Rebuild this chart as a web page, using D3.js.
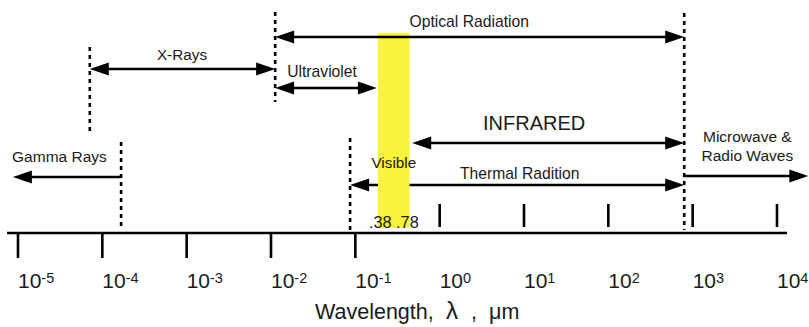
<!DOCTYPE html>
<html>
<head>
<meta charset="utf-8">
<script src="https://cdn.jsdelivr.net/npm/d3@7"></script>
<style>
    body { margin: 0; background: #fff; }
    svg { display: block; font-family: "Liberation Sans", Arial, Helvetica, sans-serif; }
</style>
</head>
<body>
<script>
//electromagnetic spectrum diagram, wavelengths in micrometres

//axis ticks, 10^n
var tickExponents = [-5, -4, -3, -2, -1, 0, 1, 2, 3, 4];

//dashed region boundaries (um)
var boundaryValues = [7.1e-5, 1.67e-4, 0.0112, 0.0867, 794];

//region arrows
var regionNames = ["Optical Radiation", "X-Rays", "Ultraviolet", "INFRARED", "Gamma Rays", "Microwave &\nRadio Waves", "Thermal Radition"];
var regionFrom = [0.0112, 7.1e-5, 0.0112, 0.472, 1.67e-4, 794, 0.0867];
var regionTo = [794, 0.0112, 0.18, 794, 8.7e-6, 23500, 794];
var regionHeads = ["both", "both", "both", "both", "end", "end", "both"];
var regionLabelAt = [2.24, 8.8e-4, 0.0403, 13.2, 3.1e-5, 4450, 8.9];

//visible band
var visibleRange = [0.186, 0.44];
var visibleLabels = ["Visible", ".38 .78"];

var axisTitle = ["Wavelength,", "\u03BB", ",", "\u03BCm"];

window.onload = drawChart();

function drawChart(){
    var width = 809,
        height = 327,
        axisY = 233;

    //layout of the rows (not data)
    var arrowY = [37, 69, 88, 143, 177, 176, 185];
    var labelY = [27, 60, 77, 130, 162, 142, 179];
    var labelSize = [15.7, 15.3, 15.7, 20, 15.5, 15.5, 15.7];
    var underBand = [false, false, false, false, false, false, true];
    var boundaryTop = [47, 142, 12, 138, 13];
    var boundaryBottom = [133, 230, 102, 230, 230];

    var svg = d3.select("body")
        .append("svg")
        .attr("width", width)
        .attr("height", height);

    var x = d3.scaleLog()
        .domain([1e-5, 1e4])
        .range([18, 777]);

    var lower = svg.append("g"),
        band = svg.append("g"),
        upper = svg.append("g");

    //dashed boundaries
    lower.selectAll(".boundary")
        .data(boundaryValues)
        .enter()
        .append("line")
        .attr("class", "boundary")
        .attr("x1", function(d){ return x(d); })
        .attr("x2", function(d){ return x(d); })
        .attr("y1", function(d, i){ return boundaryTop[i]; })
        .attr("y2", function(d, i){ return boundaryBottom[i]; })
        .attr("stroke", "#000")
        .attr("stroke-width", 2.6)
        .attr("stroke-dasharray", "4,4");

    //arrows
    var headLen = 19, headHalf = 6.5;
    regionNames.forEach(function(name, i){
        var g = underBand[i] ? lower : upper;
        var x1 = x(regionFrom[i]), x2 = x(regionTo[i]), y = arrowY[i];
        var dir = x2 > x1 ? 1 : -1;
        var lx1 = regionHeads[i] == "both" ? x1 + dir * headLen * 0.8 : x1;
        var lx2 = x2 - dir * headLen * 0.8;
        g.append("line")
            .attr("x1", lx1).attr("x2", lx2)
            .attr("y1", y).attr("y2", y)
            .attr("stroke", "#000")
            .attr("stroke-width", 2.3);
        var heads = regionHeads[i] == "both" ? [[x1, -dir], [x2, dir]] : [[x2, dir]];
        heads.forEach(function(h){
            var tip = h[0], d = h[1];
            g.append("path")
                .attr("d", "M" + tip + "," + y +
                    "L" + (tip - d * headLen) + "," + (y - headHalf) +
                    "L" + (tip - d * headLen) + "," + (y + headHalf) + "Z")
                .attr("fill", "#000");
        });
    });

    //visible band
    band.append("rect")
        .attr("x", x(visibleRange[0]))
        .attr("width", x(visibleRange[1]) - x(visibleRange[0]))
        .attr("y", 33)
        .attr("height", 228 - 33)
        .attr("fill", "#f8f43b");

    //region labels
    regionNames.forEach(function(name, i){
        var t = upper.append("text")
            .attr("x", x(regionLabelAt[i]))
            .attr("y", labelY[i])
            .attr("text-anchor", "middle")
            .attr("font-size", labelSize[i])
            .attr("fill", "#1a1a1a");
        name.split("\n").forEach(function(line, j){
            t.append("tspan")
                .attr("x", x(regionLabelAt[i]))
                .attr("dy", j == 0 ? 0 : 18.5)
                .text(line);
        });
    });

    var visMid = Math.sqrt(visibleRange[0] * visibleRange[1]);
    upper.append("text")
        .attr("x", x(visMid))
        .attr("y", 168)
        .attr("text-anchor", "middle")
        .attr("font-size", 15.3)
        .attr("fill", "#1a1a1a")
        .text(visibleLabels[0]);
    upper.append("text")
        .attr("x", x(visMid))
        .attr("y", 228)
        .attr("text-anchor", "middle")
        .attr("font-size", 16.3)
        .attr("fill", "#1a1a1a")
        .text(visibleLabels[1]);

    //axis line and ticks
    upper.append("line")
        .attr("x1", 7).attr("x2", 787)
        .attr("y1", axisY).attr("y2", axisY)
        .attr("stroke", "#000")
        .attr("stroke-width", 2.6);

    upper.selectAll(".tick")
        .data(tickExponents)
        .enter()
        .append("line")
        .attr("class", "tick")
        .attr("x1", function(d){ return x(Math.pow(10, d)); })
        .attr("x2", function(d){ return x(Math.pow(10, d)); })
        .attr("y1", function(d){ return d < 0 ? axisY : axisY - 29; })
        .attr("y2", function(d){ return d < 0 ? axisY + 25 : axisY - 6; })
        .attr("stroke", "#000")
        .attr("stroke-width", 2.6);

    var labels = upper.selectAll(".tickLabel")
        .data(tickExponents)
        .enter()
        .append("text")
        .attr("class", "tickLabel")
        .attr("x", function(d){ return x(Math.pow(10, d)); })
        .attr("y", 288)
        .attr("font-size", 21)
        .attr("fill", "#1a1a1a");
    labels.append("tspan").text("10");
    labels.append("tspan")
        .attr("font-size", 14.5)
        .attr("dy", -5)
        .text(function(d){ return d; });

    //axis title, the symbol glyphs sit wider apart in the original
    var title = upper.append("text")
        .attr("y", 319)
        .attr("font-size", 21.5)
        .attr("fill", "#1a1a1a");
    var titleX = [315, 446, 471, 489];
    axisTitle.forEach(function(part, i){
        title.append("tspan")
            .attr("x", titleX[i])
            .attr("font-size", i == 1 ? 24 : 21.5)
            .text(part);
    });
}
</script>
</body>
</html>
